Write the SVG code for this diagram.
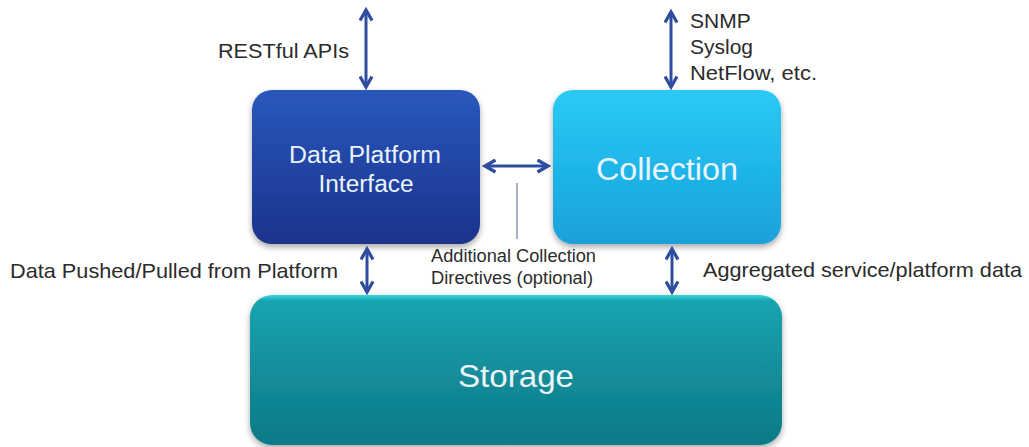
<svg xmlns="http://www.w3.org/2000/svg" width="1029" height="447" viewBox="0 0 1029 447">
  <defs>
    <linearGradient id="gDpi" x1="0" y1="0" x2="0" y2="1">
      <stop offset="0" stop-color="#2a58bd"/>
      <stop offset="0.5" stop-color="#2245a5"/>
      <stop offset="1" stop-color="#1a338c"/>
    </linearGradient>
    <linearGradient id="gCol" x1="0" y1="0" x2="0" y2="1">
      <stop offset="0" stop-color="#2ccaf4"/>
      <stop offset="0.5" stop-color="#1fb6ea"/>
      <stop offset="1" stop-color="#1ba0da"/>
    </linearGradient>
    <linearGradient id="gSto" x1="0" y1="0" x2="0" y2="1">
      <stop offset="0" stop-color="#3cd6e0"/>
      <stop offset="0.04" stop-color="#16a4b0"/>
      <stop offset="0.5" stop-color="#138e9b"/>
      <stop offset="1" stop-color="#0e7a87"/>
    </linearGradient>
    <filter id="shadow" x="-10%" y="-10%" width="120%" height="130%">
      <feGaussianBlur in="SourceAlpha" stdDeviation="3"/>
      <feOffset dx="0" dy="3" result="b"/>
      <feComponentTransfer><feFuncA type="linear" slope="0.35"/></feComponentTransfer>
      <feMerge><feMergeNode/><feMergeNode in="SourceGraphic"/></feMerge>
    </filter>
    <marker id="head" viewBox="0 0 10 10" refX="8" refY="5" markerWidth="5" markerHeight="5" orient="auto-start-reverse">
      <path d="M1,1 L8,5 L1,9" fill="none" stroke="#2f4d9e" stroke-width="2.2" stroke-linejoin="miter"/>
    </marker>
  </defs>
  <style>
    .lbl { font-family: "Liberation Sans", Arial, sans-serif; fill: #2b2b2b; }
    .box { font-family: "Liberation Sans", Arial, sans-serif; fill: #eaf4fa; text-anchor: middle; }
    .arr { stroke: #2f4d9e; stroke-width: 3; fill: none; marker-start: url(#head); marker-end: url(#head); }
  </style>
  <rect width="1029" height="447" fill="#ffffff"/>

  <g id="storage">
    <rect x="250" y="295" width="532" height="150" rx="22" fill="url(#gSto)" filter="url(#shadow)"/>
    <text class="box" x="516" y="387" font-size="32" textLength="116" lengthAdjust="spacingAndGlyphs">Storage</text>
  </g>

  <g id="data-platform-interface">
    <rect x="252" y="90" width="228" height="154" rx="20" fill="url(#gDpi)" filter="url(#shadow)"/>
    <text class="box" x="365" y="163" font-size="23" textLength="152" lengthAdjust="spacingAndGlyphs">Data Platform</text>
    <text class="box" x="366" y="192" font-size="23" textLength="95" lengthAdjust="spacingAndGlyphs">Interface</text>
  </g>

  <g id="collection">
    <rect x="553" y="90" width="228" height="154" rx="20" fill="url(#gCol)" filter="url(#shadow)"/>
    <text class="box" x="667" y="180" font-size="31" textLength="142" lengthAdjust="spacingAndGlyphs">Collection</text>
  </g>

  <g id="connectors">
    <line class="arr" x1="366" y1="10" x2="366" y2="87"/>
    <line class="arr" x1="671" y1="12" x2="671" y2="87"/>
    <line class="arr" x1="485" y1="166" x2="548" y2="166"/>
    <line class="arr" x1="367" y1="249" x2="367" y2="292"/>
    <line class="arr" x1="672" y1="249" x2="672" y2="292"/>
    <line x1="517" y1="183" x2="517" y2="239" stroke="#8a96b0" stroke-width="1.5"/>
  </g>

  <g id="labels">
    <text class="lbl" x="218" y="58" font-size="21" textLength="131" lengthAdjust="spacingAndGlyphs">RESTful APIs</text>
    <text class="lbl" x="690" y="28" font-size="21">SNMP</text>
    <text class="lbl" x="690" y="54" font-size="21">Syslog</text>
    <text class="lbl" x="690" y="80" font-size="21" textLength="127" lengthAdjust="spacingAndGlyphs">NetFlow, etc.</text>
    <text class="lbl" x="10" y="278" font-size="21" textLength="328" lengthAdjust="spacingAndGlyphs">Data Pushed/Pulled from Platform</text>
    <text class="lbl" x="431" y="262" font-size="17.5" textLength="165" lengthAdjust="spacingAndGlyphs">Additional Collection</text>
    <text class="lbl" x="431" y="284" font-size="17.5" textLength="162" lengthAdjust="spacingAndGlyphs">Directives (optional)</text>
    <text class="lbl" x="703" y="277" font-size="21" textLength="319" lengthAdjust="spacingAndGlyphs">Aggregated service/platform data</text>
  </g>
</svg>
